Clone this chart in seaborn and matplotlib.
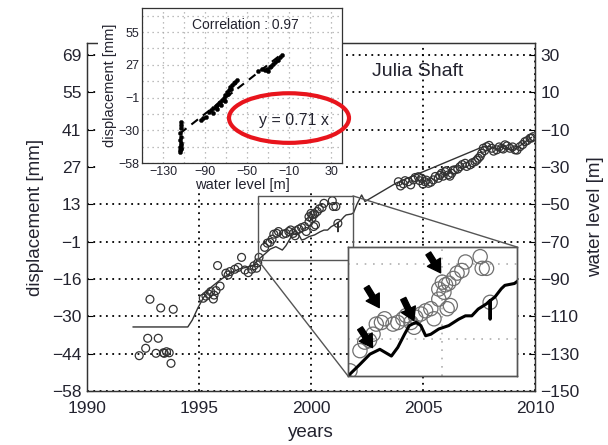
import numpy as np
import pandas as pd
import matplotlib
matplotlib.use("Agg")
import matplotlib.pyplot as plt
import seaborn as sns
from matplotlib.patches import Rectangle, Ellipse, ConnectionPatch

# ---------------- data ----------------
disp_years = [1992.33, 1992.62, 1992.71, 1992.81, 1993.08, 1993.18, 1993.29, 1993.41, 1993.45,
              1993.55, 1993.67, 1993.75, 1993.85,
              1995.19, 1995.31, 1995.42, 1995.52, 1995.64, 1995.67, 1995.76, 1995.83, 1995.94,
              1996.20, 1996.30, 1996.38, 1996.60, 1996.75, 1996.90, 1997.05, 1997.20, 1997.35,
              1997.45, 1997.57, 1997.62, 1997.68, 1997.93, 1998.05, 1998.17, 1998.26, 1998.34,
              1998.47, 1998.55, 1998.76, 1998.88, 1999.01, 1999.09, 1999.21, 1999.29, 1999.33,
              1999.46, 1999.58, 1999.71, 1999.79, 1999.91, 1999.91, 2000.00, 2000.04, 2000.08,
              2000.12, 2000.16, 2000.20, 2000.28, 2000.37, 2000.49, 2000.58, 2000.95, 2001.00,
              2001.11, 2001.20,
              2003.90, 2004.00, 2004.12, 2004.20, 2004.34, 2004.45, 2004.57, 2004.65, 2004.79,
              2004.85, 2004.94, 2005.00, 2005.09, 2005.15, 2005.24, 2005.35, 2005.46, 2005.55,
              2005.68, 2005.75, 2005.83, 2005.90, 2005.98, 2006.05, 2006.13, 2006.20, 2006.28,
              2006.35, 2006.43, 2006.55, 2006.65, 2006.75, 2006.88, 2006.95, 2007.10, 2007.20,
              2007.32, 2007.40, 2007.47, 2007.55, 2007.62, 2007.69, 2007.75, 2007.84, 2007.95,
              2008.07, 2008.15, 2008.29, 2008.40, 2008.51, 2008.58, 2008.66, 2008.75, 2008.88,
              2009.00, 2009.11, 2009.20, 2009.33, 2009.45, 2009.55, 2009.65, 2009.78, 2009.85,
              2009.92]
disp_vals = [-44.6, -41.8, -38.0, -23.2, -43.7, -38.0, -26.5, -43.5, -43.7,
             -43.1, -43.5, -47.5, -27.0,
             -22.8, -22.0, -21.2, -20.3, -23.1, -21.6, -19.9, -10.4, -18.2,
             -13.3, -14.0, -12.7, -11.8, -11.1, -7.3, -12.1, -13.1, -11.8,
             -10.5, -11.4, -9.4, -7.3, -3.5, -1.9, -1.6, -0.4, 1.5,
             1.8, 2.5, 1.5, 1.8, 2.5, 3.1, 1.8, 0.9, 2.8,
             3.4, 4.0, 4.4, 2.5, 6.2, 8.1, 9.4, 7.5, 8.9,
             4.4, 9.2, 5.0, 10.1, 11.1, 11.6, 13.2, 14.2, 12.0,
             12.0, 5.6,
             21.4, 19.8, 20.6, 21.8, 21.4, 20.2, 22.1, 23.0, 23.3,
             21.8, 22.7, 20.5, 21.4, 22.0, 20.8, 21.2, 22.1, 23.4,
             22.7, 23.8, 24.6, 23.5, 25.2, 25.6, 24.0, 23.5, 24.6,
             25.8, 25.9, 26.2, 27.1, 27.9, 28.4, 27.2, 27.8, 28.6,
             29.0, 29.6, 30.3, 31.0, 32.2, 34.1, 33.2, 34.7, 35.2,
             34.1, 33.0, 33.5, 34.6, 34.1, 33.8, 35.4, 35.0, 34.1,
             34.6, 33.5, 33.4, 34.7, 35.5, 36.6, 37.0, 37.9, 38.0,
             38.5]

water_years = [1992.05, 1994.50, 1994.70, 1994.95, 1995.20, 1995.50, 1995.95, 1996.40, 1996.80,
               1997.40, 1997.65, 1997.93, 1998.18, 1998.43, 1998.72, 1998.88, 1999.05, 1999.17,
               1999.34, 1999.46, 1999.58, 1999.71, 1999.91, 2000.16, 2000.41, 2000.58, 2000.74,
               2000.90, 2001.11, 2001.19, 2001.20, 2001.21, 2001.32, 2001.48, 2001.57, 2001.81,
               2001.90, 2002.05, 2002.26, 2002.41, 2003.82, 2007.69, 2008.00, 2008.29, 2008.60,
               2008.90, 2009.20, 2009.47, 2009.85]
water_vals = [-115.7, -115.7, -112.0, -105.5, -100.0, -94.8, -90.5, -86.8, -84.6,
              -83.0, -79.6, -76.7, -74.0, -72.7, -74.5, -72.2, -68.7, -66.4,
              -65.5, -66.4, -69.1, -68.7, -67.3, -66.4, -64.7, -63.8, -63.8,
              -62.0, -60.6, -59.8, -64.7, -59.7, -58.8, -56.6, -55.7, -55.2,
              -54.5, -50.0, -45.0, -48.5, -38.5, -19.1, -19.1, -20.9, -18.8,
              -20.9, -20.0, -17.3, -14.1]

# correlation inset (water level vs displacement)
sc_water = [-113.1, -113.1, -112.6, -113.6, -113.1, -113.6, -113.1, -113.6, -113.1, -114.0,
            -113.3, -112.8, -113.5,
            -94.2, -92.0, -89.5, -86.4, -84.8, -82.5, -80.1, -78.5, -77.0, -75.5, -73.8,
            -72.0, -70.7, -69.0, -67.6, -66.0, -64.4, -62.5, -61.3, -59.7, -83.0, -79.0,
            -75.0, -71.5, -68.0, -65.0,
            -39.4, -36.2, -33.5, -31.5, -30.0, -28.4, -27.0, -25.2, -23.6, -22.1, -20.5, -19.0,
            -17.4]
sc_disp = [-22.4, -25.2, -28.1, -32.4, -35.3, -38.2, -41.0, -43.9, -46.2, -48.2,
           -44.8, -42.5, -47.0,
           -20.9, -19.5, -18.0, -13.7, -12.3, -10.5, -9.4, -7.5, -6.5, -4.8, -3.6,
           -1.5, 0.7, 3.0, 5.0, 7.5, 9.3, 11.0, 12.1, 13.6, -14.5, -11.0,
           -8.0, -4.5, 1.5, 6.0,
           21.9, 23.4, 22.5, 23.4, 21.9, 24.9, 26.3, 28.0, 29.4, 30.9, 31.5, 33.7,
           35.2]
fit_slope = 0.71
fit_intercept = 48.5
fit_x = np.array([-114.0, -16.0])

left_labels = ["\u221258", "\u221244", "\u221230", "\u221216", "\u22121", "13", "27", "41", "55", "69"]
right_ticks = [-150, -130, -110, -90, -70, -50, -30, -10, 10, 30]
year_ticks = [1990, 1995, 2000, 2005, 2010]
corr_xticks = [-150, -130, -110, -90, -70, -50, -30, -10, 10, 30]
corr_xlabels = ["", "\u2212130", "", "\u221290", "", "\u221250", "", "\u221210", "", "30"]
corr_ylabels = ["\u221258", "", "\u221230", "", "\u22121", "", "27", "", "55", ""]

# ---------------- style ----------------
sns.set_theme(style="white")
plt.rcParams["font.family"] = ["Liberation Sans", "DejaVu Sans"]
TXT = "#23232f"
plt.rcParams["text.color"] = TXT
plt.rcParams["axes.labelcolor"] = TXT
plt.rcParams["xtick.color"] = TXT
plt.rcParams["ytick.color"] = TXT

W, H = 608, 445
fig = plt.figure(figsize=(W / 100, H / 100), dpi=100)


def fr(x0, y0, x1, y1):
    return [x0 / W, 1 - y1 / H, (x1 - x0) / W, (y1 - y0) / H]


WTOP = 36.4
k = 127.5 / 180.0  # displacement units per metre of water level (aligned ticks)
DTOP = -58 + (WTOP + 150) * k
left_pos = [-58 + i * 20 * k for i in range(10)]

ax = fig.add_axes(fr(87, 43, 535, 391))
axr = ax.twinx()

sns.scatterplot(x=disp_years, y=disp_vals, ax=ax, marker="o", s=32,
                facecolors="none", edgecolor="#333333", linewidth=0.9, zorder=3)
sns.lineplot(x=water_years, y=water_vals, ax=axr, color="#333333", lw=1.0,
             sort=False, estimator=None, zorder=3)

ax.set_xticks(year_ticks)
ax.set_xticklabels([str(y) for y in year_ticks], fontsize=12.5)
ax.set_yticks(left_pos)
ax.set_yticklabels(left_labels, fontsize=12.5)
axr.set_yticks(right_ticks)
axr.set_yticklabels([str(t).replace("-", "\u2212") for t in right_ticks], fontsize=12.5)
ax.set_xlim(1990, 2010)
ax.set_ylim(-58, DTOP)
axr.set_ylim(-150, WTOP)
ax.grid(True, linestyle=(0, (1, 2.5)), color="black", lw=1.3)
for a in (ax, axr):
    a.tick_params(direction="in", length=4, width=0.8, color="black", pad=4)
    for s in a.spines.values():
        s.set_color("#333333")
        s.set_linewidth(0.9)
ax.tick_params(axis="x", pad=7)
ax.set_xlabel("years", fontsize=13.5, labelpad=6)
ax.set_ylabel("displacement [mm]", fontsize=13.5, labelpad=6)
axr.set_ylabel("water level [m]", fontsize=13.5, labelpad=5)
ax.text(0.739, 0.917, "Julia Shaft", transform=ax.transAxes, fontsize=14,
        ha="center", va="center", color=TXT)

# zoom rectangle
rx0, rx1, ry0, ry1 = 1997.63, 2001.875, -79.8, -45.5
axr.add_patch(Rectangle((rx0, ry0), rx1 - rx0, ry1 - ry0, fill=False,
                        ec="#555555", lw=1.0, zorder=4))

# ---------------- bottom-right zoom inset ----------------
axi = fig.add_axes(fr(348, 247, 517, 376))
axi.set_zorder(3)
axi.set_facecolor("white")
axir = axi.twinx()
sns.scatterplot(x=disp_years, y=disp_vals, ax=axi, marker="o", s=105,
                facecolors="none", edgecolor="#707070", linewidth=0.9)
sns.lineplot(x=water_years, y=water_vals, ax=axir, color="black", lw=2.2,
             sort=False, estimator=None)
axi.set_xticks([2000])
axi.set_yticks(left_pos)
axi.set_xlim(rx0, rx1)
axi.set_ylim(-58 + (ry0 + 150) * k, -58 + (ry1 + 150) * k)
axir.set_xlim(rx0, rx1)
axir.set_ylim(ry0, ry1)
axi.grid(True, linestyle=(0, (1, 4)), color="#b0b0b0", lw=1.2)
for a in (axi, axir):
    a.tick_params(left=False, right=False, bottom=False, labelleft=False,
                  labelright=False, labelbottom=False)
    a.set_xlabel("")
    a.set_ylabel("")
    for s in a.spines.values():
        s.set_color("#555555")
        s.set_linewidth(1.0)
arrows = [((0.071, 0.37), (0.145, 0.22)), ((0.11, 0.69), (0.185, 0.53)),
          ((0.327, 0.60), (0.39, 0.43)), ((0.475, 0.95), (0.548, 0.80))]
for (s0, e0) in arrows:
    axir.annotate("", xy=e0, xytext=s0, xycoords="axes fraction", textcoords="axes fraction",
                  arrowprops=dict(facecolor="black", edgecolor="black", width=4,
                                  headwidth=11, headlength=9, shrink=0))

for (pa, pb) in [((rx0, ry0), (0, 0)), ((rx1, ry1), (1, 1))]:
    con = ConnectionPatch(xyA=pa, coordsA=axr.transData, xyB=pb, coordsB=axi.transAxes,
                          color="#555555", lw=1.0)
    con.set_zorder(2)
    fig.add_artist(con)

# ---------------- top-left correlation inset ----------------
cover = Rectangle((98 / W, 1 - 190 / H), (343 - 98) / W, 190 / H, transform=fig.transFigure,
                  facecolor="white", edgecolor="none", zorder=2.5)
fig.add_artist(cover)

axs = fig.add_axes(fr(142, 8, 342, 163))
axs.set_zorder(4)
axs.set_facecolor("white")
sns.lineplot(x=fit_x, y=fit_slope * fit_x + fit_intercept, ax=axs, color="black", lw=1.5,
             dashes=False, linestyle=(0, (4, 3)))
sns.scatterplot(x=sc_water, y=sc_disp, ax=axs, color="black", s=9, edgecolor="black",
                linewidth=0.3, zorder=3)
axs.set_xticks(corr_xticks)
axs.set_xticklabels(corr_xlabels, fontsize=9)
axs.set_yticks(left_pos)
axs.set_yticklabels(corr_ylabels, fontsize=9)
axs.set_xlim(-150, 40)
axs.set_ylim(-58, 76.1)
axs.grid(True, linestyle=(0, (1, 3)), color="#a8a8a8", lw=0.9)
axs.tick_params(direction="in", length=2.5, width=0.6, color="#333333", pad=2)
for s in axs.spines.values():
    s.set_color("#333333")
    s.set_linewidth(0.9)
axs.set_xlabel("water level [m]", fontsize=10.5, labelpad=0)
axs.set_ylabel("displacement [mm]", fontsize=10.5, labelpad=1)
axs.text(0.515, 0.89, "Correlation : 0.97", transform=axs.transAxes, fontsize=10,
         ha="center", va="center")
axs.text(0.76, 0.277, "y = 0.71 x", transform=axs.transAxes, fontsize=11.5,
         ha="center", va="center")
axs.add_patch(Ellipse((0.735, 0.29), 0.60, 0.32, transform=axs.transAxes, fill=False,
                      ec="#e8141c", lw=3, clip_on=False, zorder=5))

fig.savefig("out.png", dpi=100)
